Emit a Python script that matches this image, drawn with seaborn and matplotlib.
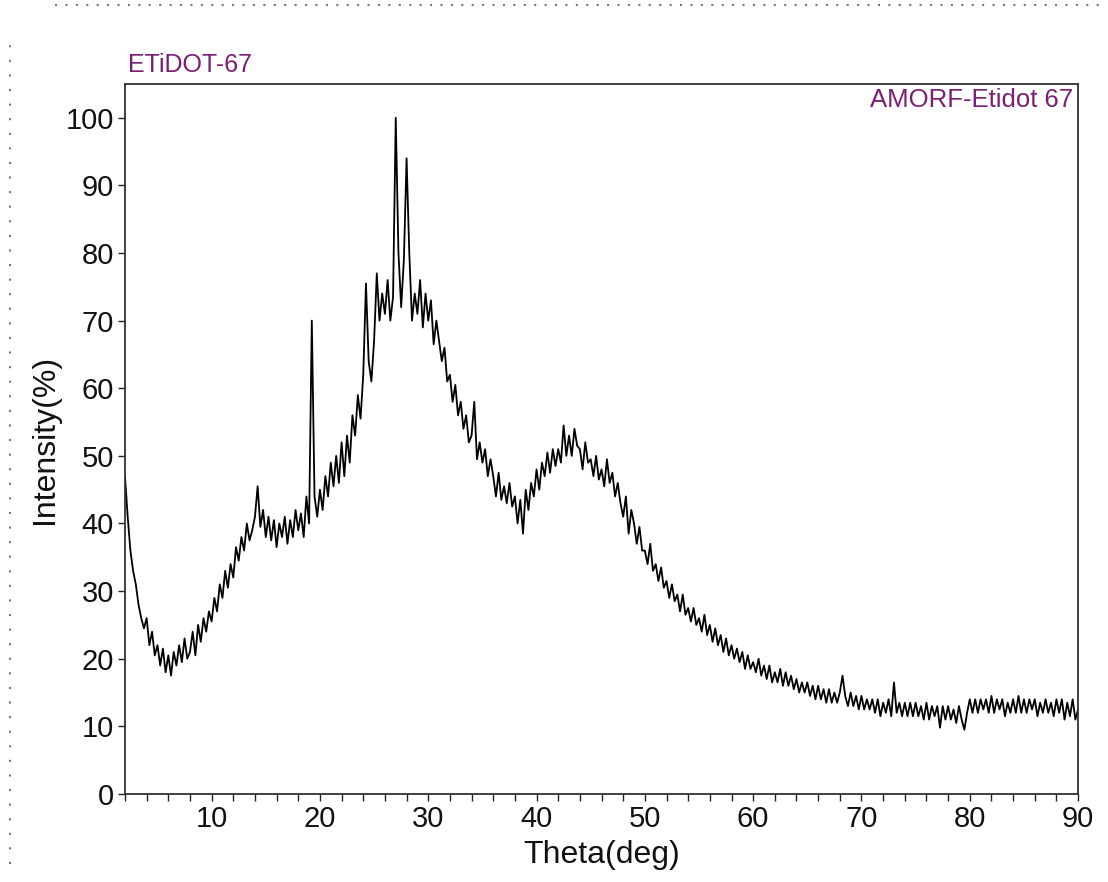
import matplotlib
matplotlib.use('Agg')
import matplotlib.pyplot as plt
from matplotlib.lines import Line2D
from matplotlib.ticker import MultipleLocator
import numpy as np
import seaborn as sns


SAMPLE_NAME = 'ETiDOT-67'
SCAN_NAME = 'AMORF-Etidot 67'
X_LABEL = 'Theta(deg)'
Y_LABEL = 'Intensity(%)'

# scan grid: 2 .. 90 deg, 0.25 deg step
THETA_START = 2.0
THETA_STOP = 90.0
THETA_STEP = 0.25

# intensity, 4 values per degree
INTENSITY = [
    47, 41, 36, 33,  31, 28, 26, 24.5,  26, 22, 24, 20.5,  22, 19, 21.5, 18,        # 2-5
    20.5, 17.5, 21, 19,  22, 19.5, 23, 20,  21, 24, 20.5, 25,  22.5, 26, 24, 27,    # 6-9
    25.5, 29, 27, 31,  29, 33, 30.5, 34,  32, 36.5, 34.5, 38,  36, 40, 37.5, 39,    # 10-13
    41, 45.5, 39.5, 42,  38, 41, 37.5, 40.5,  36.5, 40, 38, 41,  37, 40.5, 38, 42,  # 14-17
    39, 41.5, 38, 44,  40, 70, 44, 41,  45, 42, 47, 44,  49, 45.5, 50, 46,          # 18-21
    52, 47, 53, 49,  56, 53, 59, 55.5,  62, 75.5, 64, 61,  67, 77, 70, 74,          # 22-25
    71, 76, 70, 73.5,  100, 80, 72, 79,  94, 80, 70, 74,  71, 76, 69, 74,           # 26-29
    70, 73, 66.5, 70,  67, 64, 66, 61,  62, 58, 60.5, 56,  58, 54, 56, 52,          # 30-33
    53, 58, 49.5, 52,  49, 51, 47, 49.5,  47, 44, 47.5, 43.5,  45.5, 43, 46, 42.5,  # 34-37
    44, 40, 43.5, 38.5,  45, 42, 46, 44,  48, 45, 49, 47,  50.5, 47.5, 51, 48.5,    # 38-41
    51, 49, 54.5, 50,  53, 50, 54, 51.5,  51, 48, 52, 49,  49.5, 47, 50, 46.5,      # 42-45
    48, 45.5, 49.5, 46,  47.5, 44, 46, 43,  41, 44, 38.5, 42,  40, 37, 39.5, 36,    # 46-49
    36, 34, 37, 33,  34, 31.5, 33.5, 30.5,  31.5, 29, 31, 28.5,  29.5, 27, 29.5, 26.5,  # 50-53
    27.5, 25.5, 27.5, 25,  26, 24, 26.5, 23.5,  25, 22.5, 24.5, 22,  23.5, 21, 23, 20.5,  # 54-57
    22, 20, 21.5, 19.5,  21, 18.5, 20.5, 18.5,  19.5, 18, 20, 17.5,  19, 17, 19, 16.5,  # 58-61
    18, 16.5, 18.5, 16,  18, 16, 17.5, 15.5,  17, 15, 16.5, 15,  16.5, 14.5, 16, 14,    # 62-65
    16, 14, 15.5, 13.5,  15.5, 13.5, 15, 13.5,  15, 17.5, 14.5, 13,  15, 13, 14.5, 12.5,  # 66-69
    14.5, 12.5, 14, 12.5,  14, 12, 14, 11.5,  13.5, 12, 14, 11.5,  16.5, 12, 13.5, 11.5,  # 70-73
    13.5, 11.5, 13.5, 11.5,  13.5, 11.5, 13, 11,  13.5, 11, 13, 11.5,  13, 9.8, 13, 11,   # 74-77
    13, 11, 12.5, 10.5,  13, 11, 9.5, 12,  14, 12, 14, 12,  14, 12.5, 14, 12,           # 78-81
    14.5, 12, 14, 12.5,  14, 11.5, 13.5, 12,  14, 12, 14.5, 12,  14, 12, 14, 12.5,      # 82-85
    14, 11.5, 13.5, 12,  14, 12, 13.5, 11.5,  14, 12, 14, 11,  13.5, 11.5, 14, 11,      # 86-89
    12.5,                                                                               # 90
]

theta = np.arange(THETA_START, THETA_STOP + THETA_STEP / 2, THETA_STEP)

sns.set_theme(style='white')
plt.rcParams['font.family'] = ['Liberation Sans', 'DejaVu Sans']

purple = '#7a1f74'

fig = plt.figure(figsize=(11.08, 8.82), dpi=100)
ax = fig.add_axes([0.1128, 0.0998, 0.8602, 0.805])

sns.lineplot(x=theta, y=INTENSITY, ax=ax, color='black', linewidth=1.3)

ax.set_xlim(THETA_START, THETA_STOP)
ax.set_ylim(0, 105)
ax.xaxis.set_major_locator(MultipleLocator(10))
ax.xaxis.set_minor_locator(MultipleLocator(2))
ax.yaxis.set_major_locator(MultipleLocator(10))
ax.tick_params(axis='both', which='both', direction='out', length=5, width=1,
               color='#222222', labelsize=21, labelcolor='#111111',
               bottom=True, left=True, pad=3)

for s in ax.spines.values():
    s.set_color('#333333')
    s.set_linewidth(1.3)

ax.set_xlabel(X_LABEL, fontsize=23, color='#111111', labelpad=5)
ax.set_ylabel(Y_LABEL, fontsize=23, color='#111111', labelpad=4)

fig.text(0.1155, 0.918, SAMPLE_NAME, fontsize=18, color=purple, va='baseline', ha='left')
ax.text(0.995, 0.9676, SCAN_NAME, transform=ax.transAxes, fontsize=18.5,
        color=purple, va='baseline', ha='right')

# dotted ruler along top and left edge of the page
fig.add_artist(Line2D([0.05, 0.995], [0.994, 0.994], transform=fig.transFigure,
                      color='#777777', linestyle=(0, (1, 4)), linewidth=1.5))
fig.add_artist(Line2D([0.009, 0.009], [0.02, 0.96], transform=fig.transFigure,
                      color='#777777', linestyle=(0, (1, 6)), linewidth=1.5))

fig.savefig('out.png', dpi=100, facecolor='white')
